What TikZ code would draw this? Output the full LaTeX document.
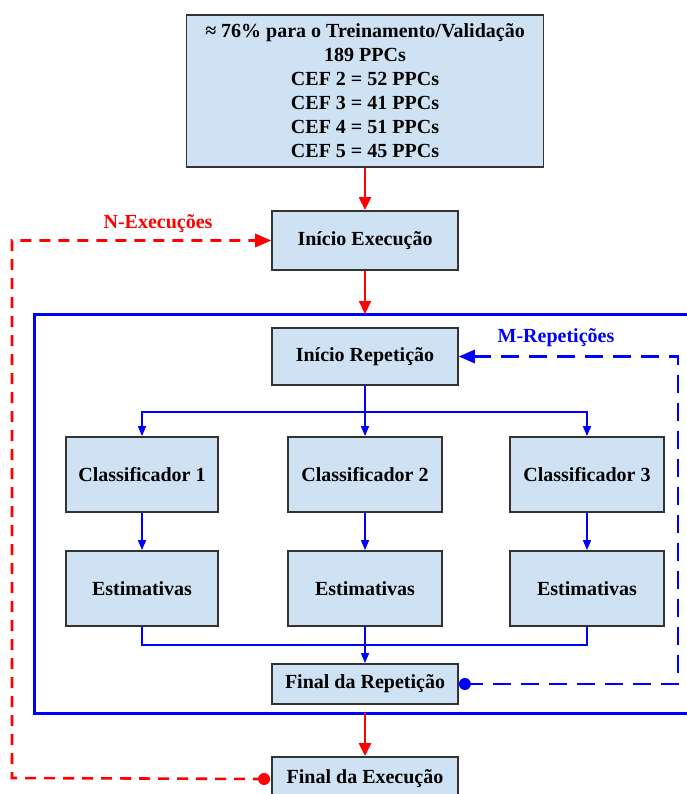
\documentclass[tikz,border=0pt]{standalone}
\usepackage{fontspec}
\setmainfont{Liberation Serif}
\usetikzlibrary{arrows.meta}
\definecolor{boxfill}{RGB}{207,226,243}
\definecolor{boxline}{RGB}{51,51,51}
\tikzset{
  box/.style={draw=boxline, fill=boxfill, line width=1.8pt, inner sep=0pt, font=\fontsize{20}{24}\selectfont\bfseries, align=center},
  redarrow/.style={draw=red, line width=2.2pt, -{Triangle[length=13pt,width=12pt]}},
  bluearrow/.style={draw=blue, line width=1.4pt, -{Triangle[length=10pt,width=8pt]}},
  blueline/.style={draw=blue, line width=1.4pt},
  reddash/.style={draw=red, line width=2.6pt, dash pattern=on 11pt off 8pt},
  bluedash/.style={draw=blue, line width=2.6pt, dash pattern=on 18pt off 10pt},
  lbl/.style={font=\fontsize{20}{24}\selectfont\bfseries}
}
\begin{document}
\begin{tikzpicture}[x=1pt,y=-1pt]
\useasboundingbox (0,0) rectangle (686,794);
% top box
\node[box, minimum width=357pt, minimum height=152pt] (top) at (365,91)
  {≈ 76\% para o Treinamento/Validação\\189 PPCs\\CEF 2 = 52 PPCs\\CEF 3 = 41 PPCs\\CEF 4 = 51 PPCs\\CEF 5 = 45 PPCs};
\node[box, minimum width=186pt, minimum height=59pt] (iniex) at (365,240.5) {Início Execução};
% blue frame
\draw[blue, line width=3pt] (34,314) rectangle (690,713);
\coordinate (ftop) at (365,314);
\coordinate (fbot) at (365,713);
\node[box, minimum width=186pt, minimum height=57pt] (inirep) at (365,356.5) {Início Repetição};
\node[box, minimum width=152pt, minimum height=75pt] (c1) at (142,474.5) {Classificador 1};
\node[box, minimum width=154pt, minimum height=75pt] (c2) at (365,474.5) {Classificador 2};
\node[box, minimum width=154pt, minimum height=75pt] (c3) at (587,474.5) {Classificador 3};
\node[box, minimum width=152pt, minimum height=75pt] (e1) at (142,588.5) {Estimativas};
\node[box, minimum width=154pt, minimum height=75pt] (e2) at (365,588.5) {Estimativas};
\node[box, minimum width=154pt, minimum height=75pt] (e3) at (587,588.5) {Estimativas};
\node[box, minimum width=186pt, minimum height=40pt] (finrep) at (365,684) {Final da Repetição};
\node[box, minimum width=186pt, minimum height=44pt] (finex) at (365,779) {Final da Execução};
% red arrows
\draw[redarrow] (top.south) -- (iniex.north);
\draw[redarrow] (iniex.south) -- (ftop);
\draw[redarrow] (fbot) -- (finex.north);
% blue split
\coordinate (sp) at (365,412);
\draw[blueline] (inirep.south) -- (sp);
\draw[bluearrow] (sp) -| (c1.north);
\draw[bluearrow] (sp) -- (c2.north);
\draw[bluearrow] (sp) -| (c3.north);
\draw[bluearrow] (c1) -- (e1);
\draw[bluearrow] (c2) -- (e2);
\draw[bluearrow] (c3) -- (e3);
\coordinate (mg) at (365,645);
\draw[blueline] (e1.south) |- (mg);
\draw[blueline] (e3.south) |- (mg);
\draw[blueline] (e2.south) -- (mg);
\draw[bluearrow] (mg) -- (finrep.north);
% blue dashed loop
\coordinate (b1) at (678,684);
\coordinate (b2) at (678,356.5);
\fill[blue] ([xshift=6pt]finrep.east) circle (6pt);
\draw[bluedash] ([xshift=6pt]finrep.east) -- (b1) -- (b2) -- ([xshift=14pt]inirep.east);
\fill[blue] (inirep.east) -- ++(16pt,-7pt) -- ++(0,14pt) -- cycle;
\node[lbl, text=blue] (mlbl) at (556,338) {M-Repetições};
% red dashed loop
\coordinate (r1) at (12,778);
\coordinate (r2) at (12,240.5);
\fill[red] ([xshift=-7pt]finex.west) circle (6pt);
\draw[reddash] ([xshift=-7pt]finex.west) -- (r1) -- (r2) -- ([xshift=-14pt]iniex.west);
\fill[red] (iniex.west) -- ++(-16pt,-7pt) -- ++(0,14pt) -- cycle;
\node[lbl, text=red] (nlbl) at (158,224) {N-Execuções};
\end{tikzpicture}
\end{document}
